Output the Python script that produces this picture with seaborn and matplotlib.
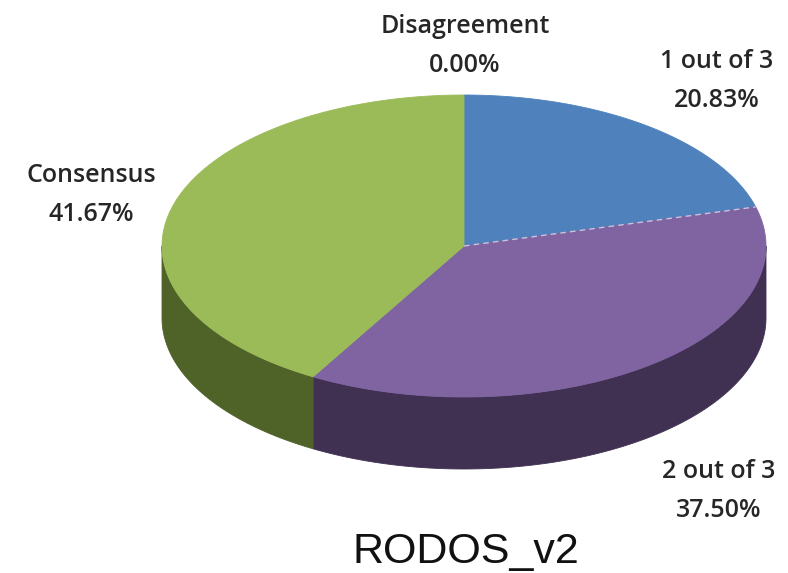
import numpy as np
import matplotlib
matplotlib.use("Agg")
import matplotlib.pyplot as plt
import seaborn as sns
from matplotlib.patches import Polygon

# data
categories = ["Disagreement", "1 out of 3", "2 out of 3", "Consensus"]
shares = [0.00, 20.83, 37.50, 41.67]
top_colors = ["#C0504D", "#4F81BD", "#8064A2", "#9BBB59"]
side_colors = ["#7F2E2C", "#2E4A6F", "#403152", "#4F6228"]
title = "RODOS_v2"

sns.set_theme(style="white")
plt.rcParams['font.family'] = ['Open Sans', 'DejaVu Sans']

fig = plt.figure(figsize=(7.88, 5.73), dpi=100)
ax = fig.add_axes([0, 0, 1, 1])
ax.set_xlim(0, 788)
ax.set_ylim(573, 0)
ax.axis("off")

# pseudo 3d pie geometry (pixels)
cx, cy = 464, 246
rx, ry = 302, 151
depth = 72


def arc(t0, t1, dy=0.0, n=120):
    t = np.linspace(t0, t1, n)
    return np.column_stack([cx + rx * np.cos(t), cy - ry * np.sin(t) + dy])


pal_top = sns.color_palette(top_colors)
pal_side = sns.color_palette(side_colors)

# slice angles, excel style: start at 12 o'clock, clockwise
fracs = np.array(shares) / np.sum(shares)
ends = np.pi / 2 - 2 * np.pi * np.cumsum(fracs)
starts = np.concatenate([[np.pi / 2], ends[:-1]])

# side walls (only the front half, angles between -pi and 0)
for i in range(len(categories)):
    if fracs[i] <= 0:
        continue
    a0, a1 = starts[i], ends[i]  # a0 > a1
    lo, hi = max(a1, -np.pi), min(a0, 0.0)
    if hi <= lo:
        continue
    top = arc(hi, lo)
    bot = arc(lo, hi, dy=depth)
    ax.add_patch(Polygon(np.vstack([top, bot]), closed=True,
                         facecolor=pal_side[i], edgecolor=pal_side[i], lw=0.6))

# top faces
for i in range(len(categories)):
    if fracs[i] <= 0:
        continue
    pts = np.vstack([[cx, cy], arc(starts[i], ends[i])])
    ax.add_patch(Polygon(pts, closed=True, facecolor=pal_top[i],
                         edgecolor=pal_top[i], lw=0.6))

# light dashed seam between blue and purple
t = ends[1]
ax.plot([cx, cx + rx * np.cos(t)], [cy, cy - ry * np.sin(t)],
        color="#c9c3dc", lw=1.0, ls=(0, (4, 3)))

# data labels
label_pos = [(465, 33), (717, 68), (719, 478), (91, 182)]
for i, name in enumerate(categories):
    x, y = label_pos[i]
    ax.text(x, y, name, ha="center", va="baseline", fontsize=18,
            fontweight="semibold", color="#262626")
    ax.text(x, y + 39, f"{shares[i]:.2f}%", ha="center", va="baseline",
            fontsize=18, fontweight="semibold", color="#262626")

ax.text(466, 563, title, ha="center", va="baseline", fontsize=31,
        family=["Liberation Sans", "DejaVu Sans"], color="#111111")

fig.savefig("out.png", dpi=100)
